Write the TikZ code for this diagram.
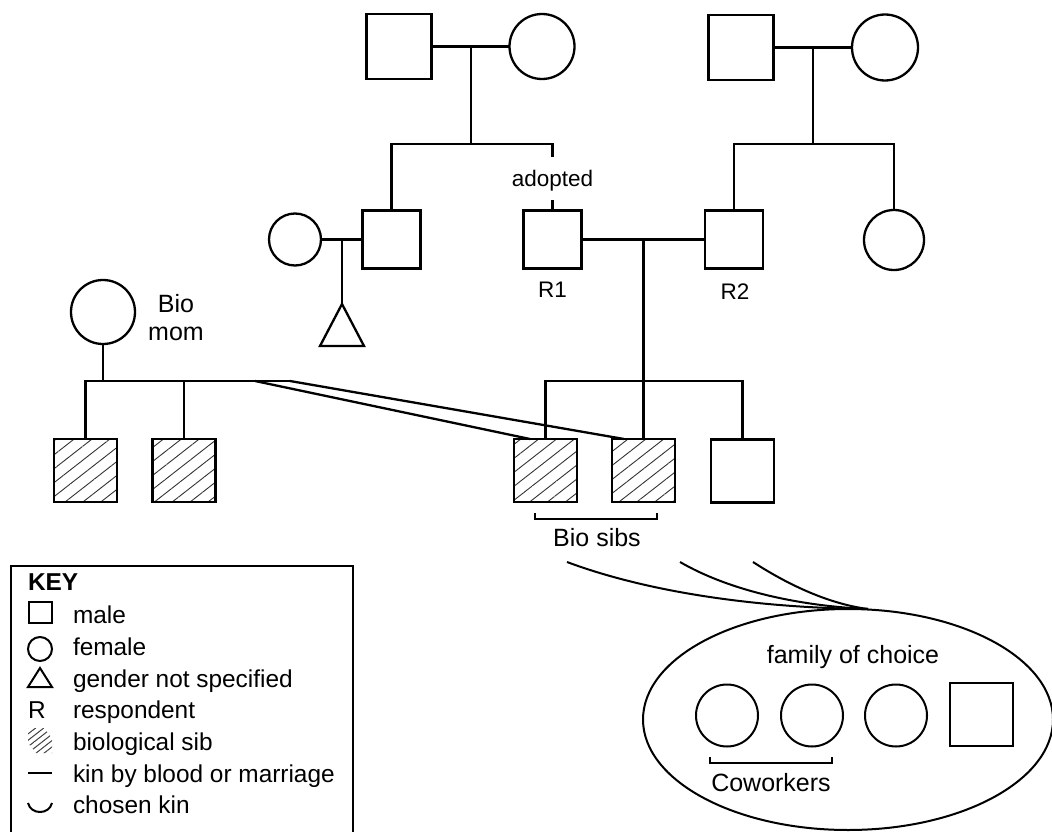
\documentclass[tikz,border=0pt]{standalone}
\usepackage{fontspec}
\setmainfont{Liberation Sans}
\usetikzlibrary{patterns.meta,calc,shapes.geometric}
\newcommand\mytxt{\fontsize{25}{30}\selectfont}
\newcommand\mykey{\fontsize{24.4}{29}\selectfont}
\newcommand\mysmall{\fontsize{22.5}{27}\selectfont}
\newcommand\myrlab{\fontsize{22.5}{27}\selectfont}
\begin{document}
\begin{tikzpicture}[x=1pt,y=-1pt,
  every node/.style={inner sep=0pt,outer sep=0pt},
  pline/.style={line width=2.3pt},
  thin line/.style={line width=2pt},
  mbox/.style={draw,rectangle,line width=2.3pt,minimum width=#1,minimum height=#1},
  fcirc/.style={draw,circle,line width=2.3pt,minimum size=#1},
  hatched/.style={pattern={Lines[angle=38,distance=11pt,line width=0.9pt]},pattern color=black!80},
  lab/.style={anchor=base,font=\mytxt},
  keytxt/.style={anchor=base west,font=\mykey}
]
\useasboundingbox (0,0) rectangle (1052,832);

% ---- grandparents left
\node[mbox=65] (gfL) at (399,46.5) {};
\node[fcirc=65] (gmL) at (542,46.5) {};
\draw[pline] (gfL.east) -- (gmL.west);
\coordinate (mL) at (471,46.5);
\coordinate (sL) at (471,144);
\draw[pline] (mL) -- (sL);

% ---- grandparents right
\node[mbox=65] (gfR) at (741,47.5) {};
\node[fcirc=66] (gmR) at (885,47.5) {};
\draw[pline] (gfR.east) -- (gmR.west);
\coordinate (mR) at (813,47.5);
\coordinate (sR) at (813,144);
\draw[pline] (mR) -- (sR);

% ---- parents' generation
\node[mbox=58] (uncle) at (391.5,239.5) {};
\node[mbox=58] (R1) at (552.5,239.5) {};
\node[mbox=58] (R2) at (734,239.5) {};
\node[fcirc=60] (aunt) at (894,240) {};
\node[fcirc=52] (wife) at (295,239.5) {};

\coordinate (adA) at (552.5,157);
\coordinate (adB) at (552.5,200);
\draw[pline] (uncle.north) |- (sL) -| (adA);
\node[anchor=base,font=\mysmall] (adtxt) at (552.5,186) {adopted};
\draw[pline] (adB) -- (R1.north);
\draw[pline] (R2.north) |- (sR) -| (aunt.north);

\node[anchor=base,font=\myrlab] (r1lab) at (552.5,297) {R1};
\node[anchor=base,font=\myrlab] (r2lab) at (735,299) {R2};

% uncle's couple and child
\draw[pline] (wife.east) -- (uncle.west);
\coordinate (mU) at (342,239.5);
\coordinate (triA) at (342,304);
\draw[pline] (mU) -- (triA);
\draw[pline,line join=miter] (triA) -- ++(22,42) -- ++(-44,0) -- cycle;

% ---- R1 + R2 children
\draw[pline] (R1.east) -- (R2.west);
\coordinate (mC) at (643.5,239.5);
\coordinate (cC) at (643.5,381);
\node[mbox=63,hatched] (bs3) at (545.5,470.5) {};
\node[mbox=63,hatched] (bs4) at (643.5,470.5) {};
\node[mbox=63] (sib5) at (742.5,471) {};
\draw[pline] (mC) -- (bs4.north);
\draw[pline] (bs3.north) |- (cC) -| (sib5.north);

% ---- bio mom
\node[fcirc=64] (bm) at (103,312) {};
\node[lab] (biotxt) at (176,312) {Bio};
\node[lab] (momtxt) at (176,340) {mom};
\coordinate (cB) at (103,381);
\coordinate (cBend) at (290,381);
\coordinate (dl1) at (255,381);
\node[mbox=63,hatched] (bs1) at (85.5,470.5) {};
\node[mbox=63,hatched] (bs2) at (184,470.5) {};
\draw[pline] (bm.south) -- (cB);
\draw[pline] (bs1.north) |- (cBend);
\draw[pline] (bs2.north) -- (bs2.north |- cB);
\draw[pline] (dl1) -- ([xshift=16pt]bs3.north west);
\draw[pline] (cBend) -- ([xshift=12pt]bs4.north west);

% bio sibs bracket
\draw[thin line] (535,513) -- (535,518.5) -- (657,518.5) -- (657,513);
\node[lab] (biosibs) at (597,546) {Bio sibs};

% ---- family of choice
\node[draw,ellipse,line width=2pt,minimum width=410,minimum height=221] (foc) at (848,719.5) {};
\coordinate (fin) at ($(foc.north)+(20,0)$);
\coordinate (ck1) at (567,562);
\coordinate (ck2) at (680,562);
\coordinate (ck3) at (753,562);
\draw[thin line] (ck1) .. controls (650,593) and (760,608) .. (fin);
\draw[thin line] (ck2) .. controls (730,591) and (800,606) .. (fin);
\draw[thin line] (ck3) .. controls (790,586) and (830,604) .. (fin);

\node[lab] (foctxt) at (853,663) {family of choice};
\node[fcirc=62,line width=2pt] (c1) at (727,715.5) {};
\node[fcirc=62,line width=2pt] (c2) at (812,715.5) {};
\node[fcirc=62,line width=2pt] (c3) at (896,715.5) {};
\node[mbox=63,line width=2pt] (fsq) at (981.5,714.5) {};
\draw[thin line] (710,757) -- (710,763) -- (832,763) -- (832,757);
\node[lab] (cow) at (771,791) {Coworkers};

% ---- key
\draw[thin line] (11,840) -- (11,566) -- (353,566) -- (353,840);
\node[anchor=base west,font=\mykey\bfseries] (keyt) at (28,590) {KEY};
\node[draw,thin line,minimum width=23,minimum height=21] (ksq) at (40,612.5) {};
\node[keytxt] (k1) at (73,623) {male};
\node[draw,circle,thin line,minimum size=24] (kci) at (40,649) {};
\node[keytxt] (k2) at (73,655) {female};
\coordinate (ktri) at (40,668);
\draw[thin line,line join=miter] (ktri) -- ++(12,19) -- ++(-24,0) -- cycle;
\node[keytxt] (k3) at (73,687) {gender not specified};
\node[keytxt] (kR) at (28,718) {R};
\node[keytxt] (k4) at (73,718) {respondent};
\fill[pattern={Lines[angle=38,distance=5pt,line width=1pt]},pattern color=black!75] (28,728) -- (44,728) -- (52,738) -- (52,753) -- (36,753) -- (28,743) -- cycle;
\node[keytxt] (k5) at (73,750) {biological sib};
\draw[thin line] (28,773) -- (52,773);
\node[keytxt] (k6) at (73,782) {kin by blood or marriage};
\draw[thin line] (28,803) .. controls (31,815) and (49,815) .. (52,803);
\node[keytxt] (k7) at (73,813) {chosen kin};
\end{tikzpicture}
\end{document}
